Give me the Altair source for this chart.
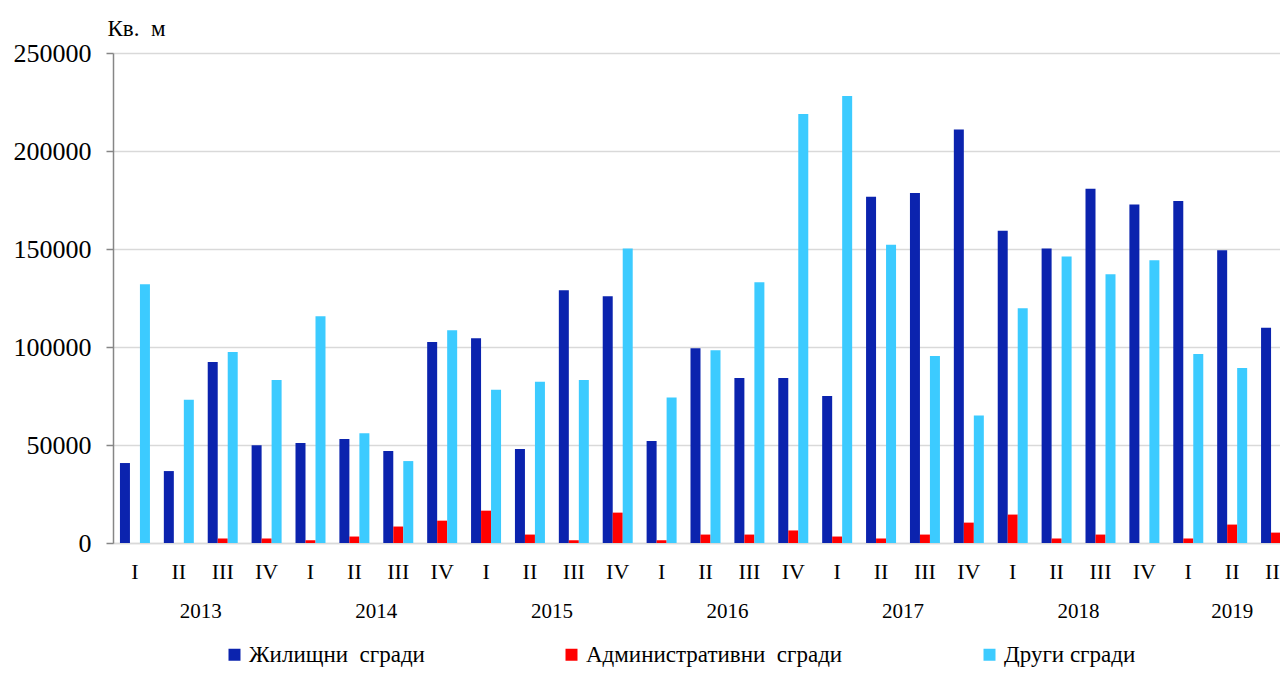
import altair as alt
import pandas as pd

# ---- data ----
quarters = ["I", "II", "III", "IV"] * 6 + ["I", "II", "III"]
years = ["2013", "2014", "2015", "2016", "2017", "2018", "2019"]
year_label_idx = [1, 5, 9, 13, 17, 21, 25]
series_names = ["Жилищни\u00a0 сгради", "Административни\u00a0 сгради", "Други сгради"]
colors = ["#0b23ae", "#ff0000", "#3ccbff"]
y_ticks = [0, 50000, 100000, 150000, 200000, 250000]

residential = [40800, 36700, 92300, 49900, 51000, 53000, 46900, 102500,
               104500, 47900, 128900, 125900, 52000, 99400, 84200, 84200,
               75000, 176600, 178600, 211000, 159300, 150300, 180700, 172700,
               174500, 149300, 109800]
administrative = [0, 0, 2300, 2300, 1400, 3300, 8400, 11400,
                  16500, 4300, 1400, 15500, 1400, 4300, 4300, 6400,
                  3300, 2300, 4300, 10400, 14500, 2300, 4300, 0,
                  2300, 9400, 5300]
other = [132000, 73100, 97400, 83200, 115700, 56000, 41800, 108600,
         78200, 82300, 83200, 150300, 74200, 98400, 133000, 218900,
         228100, 152200, 95400, 65000, 119800, 146200, 137100, 144200,
         96400, 89300, 120800]

rows = []
for i in range(len(quarters)):
    for s, vals in zip(series_names, [residential, administrative, other]):
        rows.append({"idx": i, "series": s, "value": vals[i]})
df = pd.DataFrame(rows)

n = len(quarters)
step = 43.9
W = round(n * step)
H = 490
font = "Liberation Serif"

label_expr = "[" + ",".join(f"'{q}'" for q in quarters) + "][datum.value]"
pin = 1 - 30 / step
x_scale = alt.Scale(domain=list(range(n)), paddingInner=pin, paddingOuter=pin / 2)
x_axis = alt.Axis(labelExpr=label_expr, labelAngle=0, labelFont=font, labelFontSize=22,
                  labelColor="black", labelBaseline="alphabetic", labelPadding=35,
                  ticks=False, tickSize=0, domainColor="#d9d9d9", domainWidth=1.5,
                  grid=False, title=None)

y_axis = alt.Axis(values=y_ticks, format="d", labelFont=font, labelFontSize=26,
                  labelColor="black", labelPadding=15, tickSize=7, tickColor="#868686",
                  tickWidth=1.5, domainColor="#868686", domainWidth=1.5, grid=True,
                  gridColor="#d9d9d9", gridWidth=1.5, title="Кв.\u00a0 м", titleFont=font,
                  titleFontSize=23, titleFontWeight="normal", titleColor="black",
                  titleAngle=0, titleAlign="left", titleBaseline="alphabetic",
                  titleX=-6, titleY=-18)

legend = alt.Legend(title=None, orient="none", direction="horizontal", legendX=110,
                    legendY=590, symbolType="square", symbolSize=144,
                    symbolStrokeWidth=0, labelFont=font, labelFontSize=23,
                    labelColor="black", labelOffset=3, labelLimit=600,
                    columnPadding=135, padding=0, columns=3)

bars = alt.Chart(df).mark_bar().encode(
    x=alt.X("idx:O", scale=x_scale, axis=x_axis),
    xOffset=alt.XOffset("series:N", sort=series_names,
                        scale=alt.Scale(domain=series_names, paddingInner=0, paddingOuter=0)),
    y=alt.Y("value:Q", scale=alt.Scale(domain=[0, 250000], nice=False), axis=y_axis),
    color=alt.Color("series:N", sort=series_names,
                    scale=alt.Scale(domain=series_names, range=colors), legend=legend),
)

ydf_main = pd.DataFrame({"idx": year_label_idx[:-1], "year": years[:-1]})
ydf_last = pd.DataFrame({"idx": year_label_idx[-1:], "year": years[-1:]})

years_main = alt.Chart(ydf_main).mark_text(
    font=font, fontSize=21, baseline="alphabetic", dx=step / 2, color="black"
).encode(x=alt.X("idx:O", scale=x_scale, axis=x_axis), y=alt.value(565), text="year:N")

years_last = alt.Chart(ydf_last).mark_text(
    font=font, fontSize=21, baseline="alphabetic", color="black"
).encode(x=alt.X("idx:O", scale=x_scale, axis=x_axis), y=alt.value(565), text="year:N")

chart = alt.layer(bars, years_main, years_last).properties(
    width=W, height=H,
    autosize=alt.AutoSizeParams(type="none"),
    padding={"left": 105, "top": 45, "right": -18, "bottom": 126},
).configure_view(stroke=None)

chart.save("out.html", embed_options={"renderer": "svg", "actions": False})
